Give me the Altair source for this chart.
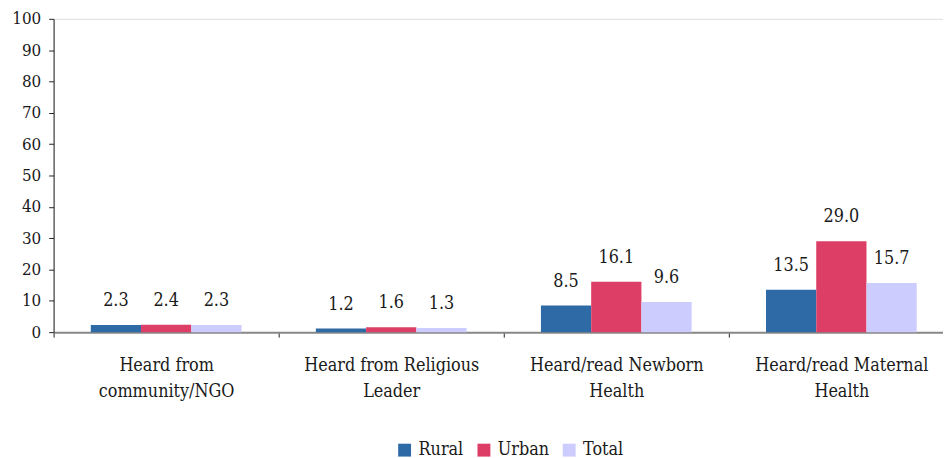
import altair as alt
import pandas as pd

categories = [
    "Heard from\ncommunity/NGO",
    "Heard from Religious\nLeader",
    "Heard/read Newborn\nHealth",
    "Heard/read Maternal\nHealth",
]
series = ["Rural", "Urban", "Total"]
rural = [2.3, 1.2, 8.5, 13.5]
urban = [2.4, 1.6, 16.1, 29.0]
total = [2.3, 1.3, 9.6, 15.7]
colors = ["#2E6BA6", "#DC3E66", "#CCCCFF"]
y_ticks = list(range(0, 101, 10))

rows = []
for s, vals in zip(series, [rural, urban, total]):
    for c, v in zip(categories, vals):
        rows.append({"category": c, "series": s, "value": v})
df = pd.DataFrame(rows)

FONT = "DejaVu Serif Condensed, DejaVu Serif"
TXT = "#1a1a1a"

base = alt.Chart(df).encode(
    x=alt.X(
        "category:N",
        sort=categories,
        title=None,
        scale=alt.Scale(range=[0, 908], paddingInner=0, paddingOuter=0),
        axis=alt.Axis(
            labelExpr="split(datum.label, '\\n')",
            labelAngle=0,
            labelFont=FONT,
            labelFontSize=18,
            labelColor=TXT,
            labelLineHeight=26,
            labelPadding=20,
            labelLimit=0,
            tickBand="extent",
            tickSize=5,
            tickColor="#222222",
            domainColor="#888888",
            domainWidth=2,
            grid=False,
        ),
    ),
    xOffset=alt.XOffset(
        "series:N", sort=series, scale=alt.Scale(paddingInner=0, paddingOuter=0.74)
    ),
    y=alt.Y(
        "value:Q",
        title=None,
        scale=alt.Scale(domain=[0, 100], nice=False),
        axis=alt.Axis(
            values=y_ticks,
            labelFont=FONT,
            labelFontSize=17,
            labelColor=TXT,
            labelPadding=8,
            tickSize=5,
            tickColor="#222222",
            domainColor="#222222",
            grid=False,
        ),
    ),
)

bars = base.mark_bar().encode(
    color=alt.Color(
        "series:N",
        sort=series,
        scale=alt.Scale(domain=series, range=colors),
        legend=alt.Legend(
            title=None,
            orient="none",
            direction="horizontal",
            legendX=345,
            legendY=426,
            symbolType="square",
            symbolSize=169,
            symbolStrokeWidth=0,
            symbolOpacity=1,
            labelFont=FONT,
            labelFontSize=18,
            labelColor=TXT,
            labelOffset=5,
            columnPadding=11,
            padding=0,
        ),
    )
)

labels = base.mark_text(
    dy=-24, baseline="middle", font=FONT, fontSize=18, color=TXT
).encode(text=alt.Text("value:Q", format=".1f"))

chart = (
    alt.layer(bars, labels)
    .properties(
        width=897,
        height=316,
        autosize=alt.AutoSizeParams(type="none"),
        padding={"left": 46, "top": 9, "right": 0, "bottom": 125},
    )
    .configure_view(stroke=None)
    .configure(background="white")
)

chart.save("out.html", embed_options={"renderer": "svg", "actions": False})
